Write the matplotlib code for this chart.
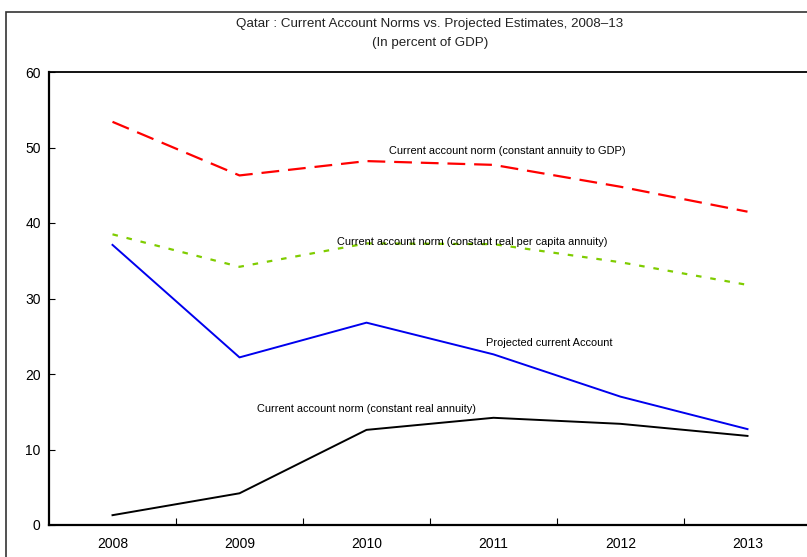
import matplotlib
matplotlib.use("Agg")
import matplotlib.pyplot as plt
from matplotlib.patches import Rectangle

years = ["2008", "2009", "2010", "2011", "2012", "2013"]
norm_gdp = [53.4, 46.3, 48.2, 47.7, 44.8, 41.5]
norm_per_capita = [38.5, 34.2, 37.3, 37.2, 34.8, 31.8]
projected = [37.1, 22.2, 26.8, 22.6, 17.0, 12.7]
norm_real = [1.3, 4.2, 12.6, 14.2, 13.4, 11.8]

plt.rcParams['font.family'] = ['Liberation Sans', 'DejaVu Sans']

W, H = 807, 557
fig = plt.figure(figsize=(W / 100, H / 100), dpi=100)

# outer frame
fig.patches.append(Rectangle((6 / W, -0.05), 1.1, (H - 12) / H + 0.05,
                             transform=fig.transFigure, fill=False,
                             edgecolor='#333333', linewidth=1.2))

ax = fig.add_axes([49 / W, 32 / H, 762 / W, 453 / H])
x = list(range(len(years)))

ax.plot(x, norm_gdp, color='#ff0000', linewidth=1.6, dashes=(8, 4))
ax.plot(x, norm_per_capita, color='#7fcc00', linewidth=1.6, dashes=(2.5, 4))
ax.plot(x, projected, color='#0000ee', linewidth=1.4)
ax.plot(x, norm_real, color='black', linewidth=1.4)

ax.set_xlim(-0.5, 5.5)
ax.set_ylim(0, 60)
ax.set_yticks(range(0, 61, 10))
ax.set_xticks(x)
ax.set_xticklabels(years)
ax.set_xticks([i + 0.5 for i in range(5)], minor=True)
ax.tick_params(axis='x', which='major', length=0, pad=9, labelsize=10)
ax.tick_params(axis='x', which='minor', direction='in', length=5, width=0.8)
ax.tick_params(axis='y', direction='in', length=4, width=0.8, pad=6, labelsize=10)

for s in ['left', 'bottom']:
    ax.spines[s].set_linewidth(1.6)
ax.spines['top'].set_linewidth(1.3)
ax.spines['right'].set_visible(False)

fs = 7.9
ax.text(2.0, 15.4, "Current account norm (constant real annuity)", ha='center', va='center', fontsize=fs)
ax.text(2.83, 37.5, "Current account norm (constant real per capita annuity)", ha='center', va='center', fontsize=fs)
ax.text(3.11, 49.5, "Current account norm (constant annuity to GDP)", ha='center', va='center', fontsize=fs)
ax.text(3.44, 24.1, "Projected current Account", ha='center', va='center', fontsize=fs)

fig.text(430 / W, 1 - 24 / H, "Qatar : Current Account Norms vs. Projected Estimates, 2008\u201313",
         ha='center', va='center', fontsize=9.6, color='#222222')
fig.text(430 / W, 1 - 43 / H, "(In percent of GDP)", ha='center', va='center', fontsize=9.6, color='#222222')

fig.savefig("out.png", dpi=100)
